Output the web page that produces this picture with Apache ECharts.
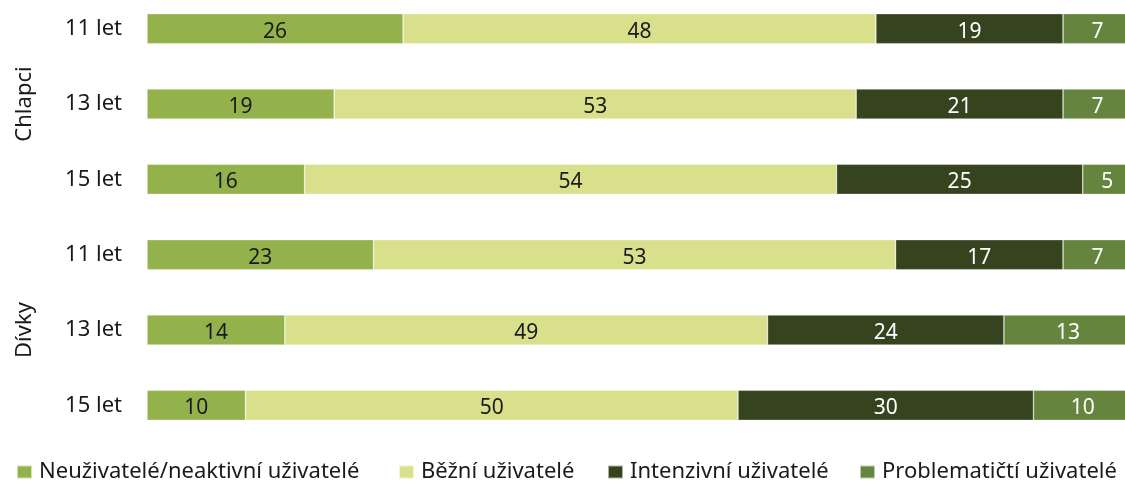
<!DOCTYPE html>
<html>
<head>
<meta charset="utf-8">
<script src="https://cdn.jsdelivr.net/npm/echarts@6/dist/echarts.min.js"></script>
<style>
  html, body { margin: 0; padding: 0; background: #fff; overflow: hidden; width: 1125px; height: 481px; }
  /* the plot runs slightly past the top and right edges of the page */
  #chart { position: absolute; left: 0; top: -9px; width: 1132px; height: 490px; }
</style>
</head>
<body>
<div id="chart"></div>
<script>
// Age rows, top to bottom (boys then girls)
const ages = ['11 let', '13 let', '15 let', '11 let ', '13 let ', '15 let '];
const groups = ['Chlapci', 'Dívky'];

// Share of each user type, in percent
const nonUsers      = [26, 19, 16, 23, 14, 10];
const regularUsers  = [48, 53, 54, 53, 49, 50];
const intenseUsers  = [19, 21, 25, 17, 24, 30];
const problemUsers  = [7, 7, 5, 7, 13, 10];

const seriesNames = [
  'Neuživatelé/neaktivní uživatelé',
  'Běžní uživatelé',
  'Intenzivní uživatelé',
  'Problematičtí uživatelé'
];
const colors = ['#94b24b', '#d9e08b', '#35431f', '#65843d'];
const labelColors = ['#1a1a1a', '#1a1a1a', '#ffffff', '#ffffff'];
const values = [nonUsers, regularUsers, intenseUsers, problemUsers];

// left edge of each legend entry along the bottom row
const legendLeft = [16, 398, 607, 859];

const FONT = '"Noto Sans", "Open Sans", sans-serif';

const chart = echarts.init(document.getElementById('chart'), null, { renderer: 'canvas' });

chart.setOption({
  animation: false,
  textStyle: { fontFamily: FONT },
  grid: { left: 147, right: 0, top: 0, bottom: 38, containLabel: false },
  legend: seriesNames.map((name, i) => ({
    top: 470,
    left: legendLeft[i],
    padding: 0,
    itemWidth: 15,
    itemHeight: 13,
    icon: 'rect',
    textStyle: { fontFamily: FONT, fontSize: 22, color: '#1a1a1a', padding: [0, 0, 0, 2] },
    data: [name]
  })),
  xAxis: {
    type: 'value',
    min: 0,
    max: 100,
    show: false
  },
  yAxis: [
    {
      type: 'category',
      data: ages,
      inverse: true,
      axisLine: { show: false },
      axisTick: { show: false },
      axisLabel: {
        margin: 25,
        fontSize: 22,
        color: '#1a1a1a',
        fontFamily: FONT,
        padding: [4, 0, 0, 0],
        formatter: v => v.trim()
      }
    },
    {
      type: 'category',
      data: groups,
      inverse: true,
      position: 'left',
      offset: 0,
      axisLine: { show: false },
      axisTick: { show: false },
      axisLabel: {
        rotate: 90,
        margin: 122,
        fontSize: 22,
        color: '#1a1a1a',
        fontFamily: FONT,
        align: 'center',
        verticalAlign: 'middle'
      }
    }
  ],
  series: values.map((arr, i) => ({
    name: seriesNames[i],
    type: 'bar',
    stack: 'total',
    yAxisIndex: 0,
    barWidth: '40%',
    data: arr,
    itemStyle: { color: colors[i], borderColor: 'rgba(255,255,255,0.6)', borderWidth: 0.6 },
    label: {
      show: true,
      position: 'inside',
      offset: [0, 3],
      fontSize: 21,
      fontFamily: FONT,
      color: labelColors[i]
    }
  }))
});
</script>
</body>
</html>
